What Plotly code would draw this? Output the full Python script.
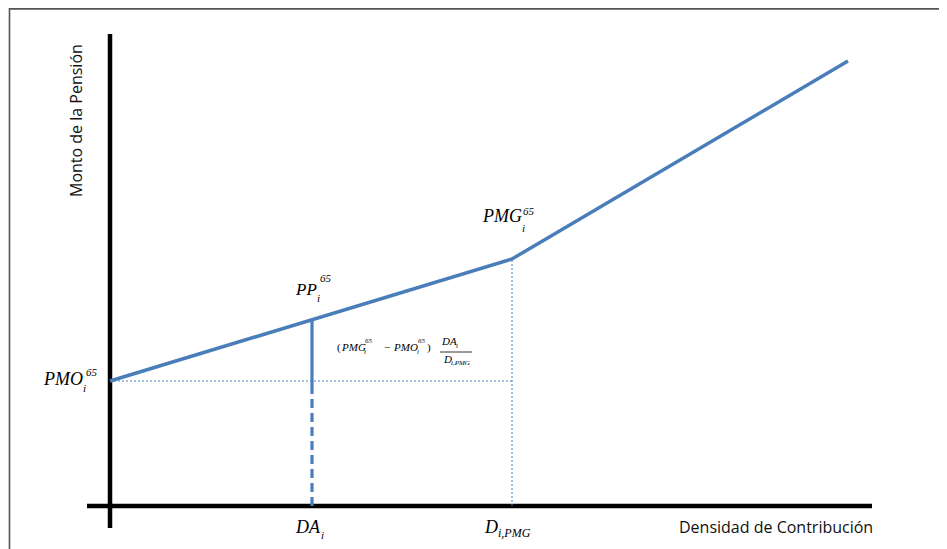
import plotly.graph_objects as go

# ---- data ----
densidad = [0.0, 2.02, 4.02, 7.38]          # PMO point, DA_i, D_i,PMG, end
monto = [1.25, 1.86, 2.47, 4.45]            # pension amount at those points
da_x = densidad[1]
dpmg_x = densidad[2]
pmo_y = monto[0]
pp_y = monto[1]
pmg_y = monto[2]
da_solid_bottom = 1.18
x_axis_extent = [-0.23, 7.62]
y_axis_extent = [-0.22, 4.72]

x_title = "Densidad de Contribución"
y_title = "Monto de la Pensión"

BLUE = "#4A7EBB"
SERIF = "Liberation Serif"
SANS = "Open Sans"

fig = go.Figure()

# axes (thick black lines crossing at origin)
fig.add_trace(go.Scatter(x=x_axis_extent, y=[0, 0], mode="lines",
                         line=dict(color="black", width=4.5), hoverinfo="skip"))
fig.add_trace(go.Scatter(x=[0, 0], y=y_axis_extent, mode="lines",
                         line=dict(color="black", width=4.5), hoverinfo="skip"))

# dotted guides
fig.add_trace(go.Scatter(x=[0, dpmg_x], y=[pmo_y, pmo_y], mode="lines",
                         line=dict(color=BLUE, width=1, dash="2px,2px"), hoverinfo="skip"))
fig.add_trace(go.Scatter(x=[dpmg_x, dpmg_x], y=[0, pmg_y], mode="lines",
                         line=dict(color=BLUE, width=1, dash="2px,2px"), hoverinfo="skip"))

# vertical at DA_i: solid then dashed
fig.add_trace(go.Scatter(x=[da_x, da_x], y=[da_solid_bottom, pp_y], mode="lines",
                         line=dict(color=BLUE, width=3.2), hoverinfo="skip"))
fig.add_trace(go.Scatter(x=[da_x, da_x], y=[0, da_solid_bottom], mode="lines",
                         line=dict(color=BLUE, width=3.2, dash="9px,5px"), hoverinfo="skip"))

# main pension line
fig.add_trace(go.Scatter(x=densidad, y=monto, mode="lines",
                         line=dict(color=BLUE, width=3.5), hoverinfo="skip"))

anns = []


def txt(x, y, text, dx, dy, size, xanchor="left", family=SERIF, italic=True, color="black"):
    t = f"<i>{text}</i>" if italic else text
    anns.append(dict(x=x, y=y, xref="x", yref="y", text=t, showarrow=False,
                     xanchor=xanchor, yanchor="middle", xshift=dx, yshift=-dy,
                     borderpad=0, font=dict(family=family, size=size, color=color)))


# PMO_i^65
txt(densidad[0], pmo_y, "PMO", -26, -2, 18, xanchor="right")
txt(densidad[0], pmo_y, "65", -25, -9, 11)
txt(densidad[0], pmo_y, "i", -28, 7, 11)

# PP_i^65
txt(da_x, pp_y, "PP", -18, -31, 17)
txt(da_x, pp_y, "65", 7, -42, 11)
txt(da_x, pp_y, "i", 4, -22, 11)

# PMG_i^65
txt(dpmg_x, pmg_y, "PMG", -31, -43, 18)
txt(dpmg_x, pmg_y, "65", 10, -48, 11)
txt(dpmg_x, pmg_y, "i", 9, -31, 11)

# DA_i
txt(da_x, 0, "DA", -18, 21, 18)
txt(da_x, 0, "i", 8, 29, 11)

# D_i,PMG
txt(dpmg_x, 0, "D", -29, 21, 18)
txt(dpmg_x, 0, "i,PMG", -15, 27, 12)

# formula (PMG - PMO) DA/D
fx, fy = da_x, pmo_y
txt(fx, fy, "(", 24, -34, 11, italic=False)
txt(fx, fy, "PMG", 28, -34, 11)
txt(fx, fy, "65", 52, -40, 7)
txt(fx, fy, "i", 51, -29, 7)
txt(fx, fy, "−", 71, -34, 11, italic=False)
txt(fx, fy, "PMO", 80, -34, 11)
txt(fx, fy, "65", 105, -40, 7)
txt(fx, fy, "i", 104, -29, 7)
txt(fx, fy, ")", 114, -34, 11, italic=False)
txt(fx, fy, "DA", 128, -40, 11)
txt(fx, fy, "i", 143, -35, 7)
txt(fx, fy, "D", 130, -22, 11)
txt(fx, fy, "i,PMG", 138, -18, 7)

# axis titles
anns.append(dict(x=x_axis_extent[1], y=0, xref="x", yref="y", text=x_title, showarrow=False,
                 xanchor="right", yanchor="middle", yshift=-21, xshift=2, borderpad=0,
                 font=dict(family=SANS, size=16, color="#111")))
anns.append(dict(x=0, y=3.85, xref="x", yref="y", text=y_title, showarrow=False,
                 xanchor="center", yanchor="middle", xshift=-34, textangle=-90, borderpad=0,
                 font=dict(family=SANS, size=16, color="#111")))

# the page body adds an 8px offset; the frame sits just inside it
shapes = [
    # fraction bar (pixel-sized relative to formula anchor)
    dict(type="line", xref="x", yref="y", xsizemode="pixel", ysizemode="pixel",
         xanchor=fx, yanchor=fy, x0=128, x1=160, y0=29, y1=29,
         line=dict(color="black", width=0.8)),
    # outer frame (left and top edges)
    dict(type="path", xref="paper", yref="paper",
         path=f"M {1.5/947} 0 L {1.5/947} {1-0.9/549} L 1 {1-0.9/549}",
         line=dict(color="#555", width=1.6)),
]

fig.update_layout(
    width=947, height=549, autosize=False,
    margin=dict(l=0, r=0, t=0, b=0),
    paper_bgcolor="white", plot_bgcolor="white",
    showlegend=False,
    xaxis=dict(range=[-1.02, 8.45], visible=False, fixedrange=True),
    yaxis=dict(range=[-0.51, 4.98], visible=False, fixedrange=True),
    annotations=anns, shapes=shapes,
)

fig.write_html("out.html", config={"displayModeBar": False})
